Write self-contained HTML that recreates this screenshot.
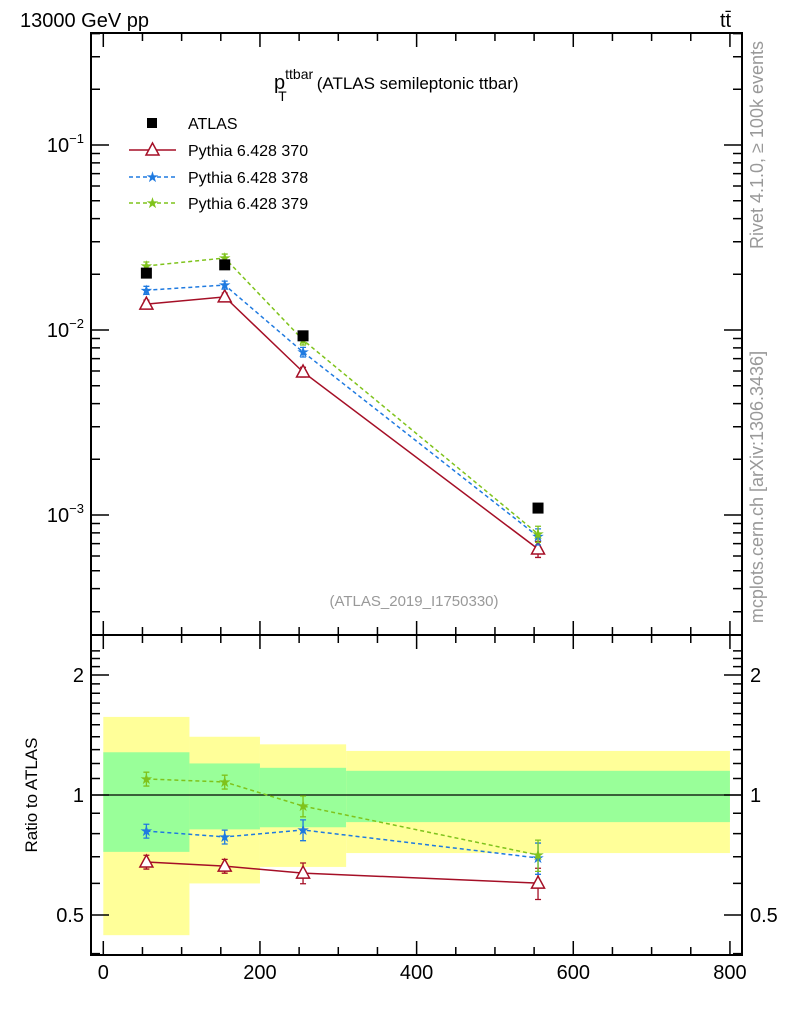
<!DOCTYPE html>
<html><head><meta charset="utf-8"><style>
body{margin:0;background:#fff}
svg text{font-family:"Liberation Sans",sans-serif}
</style></head><body>
<svg id="c" width="786" height="1024" xmlns="http://www.w3.org/2000/svg">
<g id="bands"></g>
<g id="marks"></g>
<g id="axes"></g>
<text x="20" y="27" font-size="20">13000 GeV pp</text>
<text x="720" y="27" font-size="20">tt̄</text>
<text x="274" y="89" font-size="20">p<tspan font-size="14" dy="-10">ttbar</tspan><tspan font-size="14" dx="-35" dy="22">T</tspan><tspan font-size="17" dx="30" dy="-12">(ATLAS semileptonic ttbar)</tspan></text>
<text x="414" y="606" font-size="15" fill="#999" text-anchor="middle">(ATLAS_2019_I1750330)</text>
<text transform="translate(763,145) rotate(-90)" font-size="18" fill="#999" text-anchor="middle">Rivet 4.1.0, ≥ 100k events</text>
<text transform="translate(763,487) rotate(-90)" font-size="18" fill="#999" text-anchor="middle">mcplots.cern.ch [arXiv:1306.3436]</text>
<text transform="translate(37,795) rotate(-90)" font-size="17" text-anchor="middle">Ratio to ATLAS</text>
<g id="legend">
<rect x="147" y="118" width="10" height="10" fill="#000"/>
<text x="188" y="129" font-size="16">ATLAS</text>
<line x1="129" y1="150" x2="176" y2="150" stroke="#a50f26" stroke-width="1.5"/>
<path d="M152.5 143 L159 155 L146 155 Z" fill="#fff" stroke="#a50f26" stroke-width="1.5"/>
<text x="188" y="156" font-size="16">Pythia 6.428 370</text>
<line x1="129" y1="177" x2="176" y2="177" stroke="#1f7ae0" stroke-width="1.5" stroke-dasharray="4,3"/>
<text x="152.5" y="182" font-size="15" fill="#1f7ae0" text-anchor="middle">★</text>
<text x="188" y="183" font-size="16">Pythia 6.428 378</text>
<line x1="129" y1="203" x2="176" y2="203" stroke="#7fc31c" stroke-width="1.5" stroke-dasharray="4,3"/>
<text x="152.5" y="208" font-size="15" fill="#7fc31c" text-anchor="middle">★</text>
<text x="188" y="209" font-size="16">Pythia 6.428 379</text>
</g>
</svg>
<script>
const xCenters=[55,155,255,555];
const binEdges=[0,110,200,310,800];
const atlas=[0.0203,0.0225,0.0093,0.00109];
const p370=[0.0138,0.0151,0.00593,0.000655];
const p378=[0.0164,0.0175,0.0076,0.000765];
const p379=[0.0222,0.0245,0.00883,0.00079];
const relErr=[0.05,0.05,0.06,0.10];
const r370=[0.679,0.663,0.637,0.601];
const r378=[0.812,0.785,0.817,0.695];
const r379=[1.097,1.078,0.938,0.707];
const rErr=[0.04,0.04,0.06,0.09];
const yelHi=[1.57,1.40,1.34,1.29];
const yelLo=[0.445,0.60,0.66,0.715];
const grnHi=[1.28,1.20,1.17,1.15];
const grnLo=[0.72,0.82,0.83,0.855];
const xTicks=[0,200,400,600,800];
const mainTicks=[-3,-2,-1];
const ratioTicks=[0.5,1,2];

const NS="http://www.w3.org/2000/svg";
const L=91,R=742,T=33,MB=635,RB=955;
const X=v=>103.3+v*0.7833;
const Y=v=>330-185*Math.log10(v/0.01);
const RY=v=>795-398.6*Math.log10(v);
function mk(p,tag,a){const e=document.createElementNS(NS,tag);for(const k in a)e.setAttribute(k,a[k]);p.appendChild(e);return e;}
const bands=document.getElementById('bands'),marks=document.getElementById('marks'),axes=document.getElementById('axes');

for(let i=0;i<4;i++){
 let e=mk(bands,'rect',{x:X(binEdges[i]),y:RY(yelHi[i]),width:X(binEdges[i+1])-X(binEdges[i]),height:RY(yelLo[i])-RY(yelHi[i]),fill:'#ffff99'});
 
 
 e=mk(bands,'rect',{x:X(binEdges[i]),y:RY(grnHi[i]),width:X(binEdges[i+1])-X(binEdges[i]),height:RY(grnLo[i])-RY(grnHi[i]),fill:'#99ff99'});
 
 
}
let ln=mk(bands,'line',{x1:L,x2:R,y1:RY(1),y2:RY(1),stroke:'#000','stroke-width':1.2});



function series(vals,yf,col,dash,type,name,err){
 const pts=vals.map((v,i)=>X(xCenters[i])+','+yf(v)).join(' ');
 const pl=mk(marks,'polyline',{points:pts,fill:'none',stroke:col,'stroke-width':1.5,'stroke-dasharray':dash});
 
 
 vals.forEach((v,i)=>{
  const x=X(xCenters[i]),y=yf(v);
  const e1=yf(v*(1+err[i])),e2=yf(v*(1-err[i]));
  const eb=mk(marks,'path',{d:`M${x} ${e1}V${e2}M${x-3} ${e1}H${x+3}M${x-3} ${e2}H${x+3}`,stroke:col,'stroke-width':1.3,fill:'none'});
  
  
  let m;
  if(type==='tri') m=mk(marks,'path',{d:`M${x} ${y-7}L${x+6.5} ${y+5}L${x-6.5} ${y+5}Z`,fill:'#fff',stroke:col,'stroke-width':1.5});
  else {m=mk(marks,'text',{x:x,y:y+5,'font-size':15,fill:col,'text-anchor':'middle'});m.textContent='★';}
  
  
 });
}
series(p370,Y,'#a50f26','none','tri','p370',relErr);
series(p378,Y,'#1f7ae0','4,3','star','p378',relErr);
series(p379,Y,'#7fc31c','4,3','star','p379',relErr);
series(r370,RY,'#a50f26','none','tri','ratio-370',rErr);
series(r378,RY,'#1f7ae0','4,3','star','ratio-378',rErr);
series(r379,RY,'#7fc31c','4,3','star','ratio-379',rErr);
atlas.forEach((v,i)=>{
 const r=mk(marks,'rect',{x:X(xCenters[i])-5.5,y:Y(v)-5.5,width:11,height:11,fill:'#000'});
 
 
});

let f=mk(axes,'rect',{x:L,y:T,width:R-L,height:MB-T,fill:'none',stroke:'#000','stroke-width':2});


f=mk(axes,'rect',{x:L,y:MB,width:R-L,height:RB-MB,fill:'none',stroke:'#000','stroke-width':2});


let d='';
for(let v=0;v<=800;v+=50){const x=X(v),len=v%200===0?14:8;
 d+=`M${x} ${MB}v${-len}M${x} ${T}v${len}M${x} ${MB}v${len}M${x} ${RB}v${-len}`;}
for(let e=-4;e<=0;e++)for(let k=1;k<10;k++){const v=k*Math.pow(10,e),y=Y(v);if(y<T||y>MB)continue;const len=k===1?18:9;d+=`M${L} ${y}h${len}M${R} ${y}h${-len}`;}
[0.4,0.5,0.6,0.7,0.8,0.9,1,1.1,1.2,1.3,1.4,1.5,1.6,1.7,1.8,1.9,2,2.1,2.2,2.3].forEach(v=>{const y=RY(v);if(y<MB||y>RB)return;const len=(v===0.5||v===1||v===2)?18:9;d+=`M${L} ${y}h${len}M${R} ${y}h${-len}`;});
const tk=mk(axes,'path',{d:d,stroke:'#000','stroke-width':1.5,fill:'none'});


xTicks.forEach(v=>{const t=mk(axes,'text',{x:X(v),y:979,'font-size':20,'text-anchor':'middle'});t.textContent=v;
 
 });
mainTicks.forEach(e=>{const t=mk(axes,'text',{x:84,y:Y(Math.pow(10,e))+7,'font-size':20,'text-anchor':'end'});
 t.innerHTML='10<tspan font-size="13" dy="-9">−'+(-e)+'</tspan>';
 
 });
ratioTicks.forEach(v=>{[[84,'end'],[750,'start']].forEach(([x,a])=>{const t=mk(axes,'text',{x:x,y:RY(v)+7,'font-size':20,'text-anchor':a});t.textContent=v;
 
 });});
</script>
</body></html>
